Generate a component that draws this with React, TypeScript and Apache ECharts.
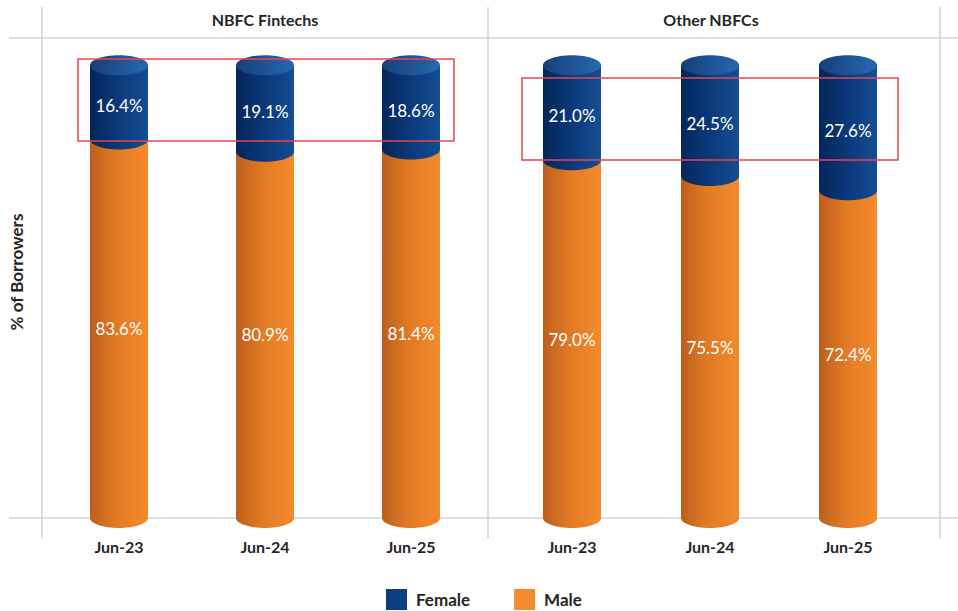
import React, { useEffect, useRef } from "react";
import * as echarts from "echarts";

const categories = ["Jun-23", "Jun-24", "Jun-25"];
const panelTitles = ["NBFC Fintechs", "Other NBFCs"];
const fintechFemale = [16.4, 19.1, 18.6];
const fintechMale = [83.6, 80.9, 81.4];
const otherFemale = [21.0, 24.5, 27.6];
const otherMale = [79.0, 75.5, 72.4];
const yAxisTitle = "% of Borrowers";
const legendNames = ["Female", "Male"];

const FONT = "Lato, 'Open Sans', sans-serif";
const TXT = "#262626";

function blueBody() {
  return new echarts.graphic.LinearGradient(0, 0, 1, 0, [
    { offset: 0, color: "#04265a" },
    { offset: 0.5, color: "#0a397a" },
    { offset: 1, color: "#154e93" },
  ]);
}
function blueCap() {
  return new echarts.graphic.LinearGradient(0, 0, 1, 0, [
    { offset: 0, color: "#173f78" },
    { offset: 1, color: "#2668b2" },
  ]);
}
function orangeBody() {
  return new echarts.graphic.LinearGradient(0, 0, 1, 0, [
    { offset: 0, color: "#bd5f1b" },
    { offset: 0.45, color: "#e27a25" },
    { offset: 1, color: "#f38a2c" },
  ]);
}

function makeRender(kind: "male" | "female") {
  return (params: any, api: any) => {
    const x = api.value(0);
    const start = api.value(1);
    const end = api.value(2);
    const v = api.value(3);
    const b = api.coord([x, start]);
    const t = api.coord([x, end]);
    const w = 58;
    const ry = 10;
    const cx = b[0];
    const children: any[] = [
      {
        type: "rect",
        shape: { x: cx - w / 2, y: t[1], width: w, height: b[1] - t[1] },
        style: { fill: kind === "female" ? blueBody() : orangeBody() },
      },
      {
        type: "ellipse",
        shape: { cx, cy: b[1], rx: w / 2, ry },
        style: { fill: kind === "female" ? blueBody() : orangeBody() },
      },
    ];
    if (kind === "female") {
      children.push({
        type: "ellipse",
        shape: { cx, cy: t[1], rx: w / 2, ry },
        style: { fill: blueCap() },
      });
    }
    children.push({
      type: "text",
      x: cx,
      y: (b[1] + t[1]) / 2 + (kind === "female" ? 3 : 0),
      style: {
        text: Number(v).toFixed(1) + "%",
        fill: "#ffffff",
        fontSize: 17,
        fontFamily: FONT,
        align: "center",
        verticalAlign: "middle",
      },
    });
    return { type: "group", children };
  };
}

function buildData(lower: number[], upper: number[], isUpper: boolean) {
  return categories.map((_, i) =>
    isUpper
      ? [i, lower[i], lower[i] + upper[i], upper[i]]
      : [i, 0, lower[i], lower[i]]
  );
}

export default function App() {
  const ref = useRef<HTMLDivElement>(null);
  useEffect(() => {
    if (!ref.current) return;
    const chart = echarts.init(ref.current, null, { renderer: "svg" });
    const gridTop = 38;
    const gridHeight = 480;
    const lineColor = "#d4d4d4";
    const xAxisCommon = {
      type: "category",
      data: categories,
      axisLine: { show: false },
      axisTick: { show: false },
      axisLabel: {
        margin: 20,
        fontSize: 16,
        fontWeight: "bold",
        color: TXT,
        fontFamily: FONT,
      },
    };
    const yCommon = {
      type: "value",
      min: 0,
      max: 106,
      axisLine: { show: false },
      axisTick: { show: false },
      axisLabel: { show: false },
      splitLine: { show: false },
    };
    const option: any = {
      animation: false,
      textStyle: { fontFamily: FONT },
      grid: [
        { left: 46, width: 438, top: gridTop, height: gridHeight },
        { left: 503, width: 414, top: gridTop, height: gridHeight },
      ],
      xAxis: [
        { ...xAxisCommon, gridIndex: 0 },
        { ...xAxisCommon, gridIndex: 1 },
      ],
      yAxis: [
        { ...yCommon, gridIndex: 0 },
        { ...yCommon, gridIndex: 1 },
      ],
      legend: {
        data: legendNames,
        left: 386,
        top: 589,
        padding: 0,
        icon: "rect",
        itemWidth: 21,
        itemHeight: 21,
        itemGap: 44,
        textStyle: {
          fontSize: 17,
          fontWeight: "bold",
          color: TXT,
          fontFamily: FONT,
          padding: [0, 0, 0, 4],
        },
      },
      graphic: [
        ...[42, 488, 940].map((x) => ({
          type: "line",
          z: 0,
          shape: { x1: x, y1: 7, x2: x, y2: 538 },
          style: { stroke: lineColor, lineWidth: 1.5 },
        })),
        ...[38, 518].map((y) => ({
          type: "line",
          z: 0,
          shape: { x1: 9, y1: y, x2: 958, y2: y },
          style: { stroke: lineColor, lineWidth: 1.5 },
        })),
        ...panelTitles.map((t, i) => ({
          type: "text",
          x: i === 0 ? 265 : 711,
          y: 19,
          style: {
            text: t,
            fontSize: 16,
            fontWeight: "bold",
            fill: TXT,
            fontFamily: FONT,
            align: "center",
            verticalAlign: "middle",
          },
        })),
        {
          type: "text",
          x: 16,
          y: 272,
          rotation: Math.PI / 2,
          style: {
            text: yAxisTitle,
            fontSize: 17,
            fontWeight: "bold",
            fill: TXT,
            fontFamily: FONT,
            align: "center",
            verticalAlign: "middle",
          },
        },
        {
          type: "rect",
          z: 100,
          shape: { x: 78, y: 59, width: 376, height: 82 },
          style: { fill: "none", stroke: "#e9444e", lineWidth: 1.5 },
        },
        {
          type: "rect",
          z: 100,
          shape: { x: 522, y: 78, width: 376, height: 82 },
          style: { fill: "none", stroke: "#e9444e", lineWidth: 1.5 },
        },
      ],
      series: [
        {
          type: "custom",
          name: "Male",
          xAxisIndex: 0,
          yAxisIndex: 0,
          z: 2,
          itemStyle: { color: "#f28a2e" },
          renderItem: makeRender("male"),
          encode: { x: 0, y: [1, 2] },
          data: buildData(fintechMale, fintechFemale, false),
        },
        {
          type: "custom",
          name: "Female",
          xAxisIndex: 0,
          yAxisIndex: 0,
          z: 3,
          itemStyle: { color: "#0b3f82" },
          renderItem: makeRender("female"),
          encode: { x: 0, y: [1, 2] },
          data: buildData(fintechMale, fintechFemale, true),
        },
        {
          type: "custom",
          name: "Male",
          xAxisIndex: 1,
          yAxisIndex: 1,
          z: 2,
          itemStyle: { color: "#f28a2e" },
          renderItem: makeRender("male"),
          encode: { x: 0, y: [1, 2] },
          data: buildData(otherMale, otherFemale, false),
        },
        {
          type: "custom",
          name: "Female",
          xAxisIndex: 1,
          yAxisIndex: 1,
          z: 3,
          itemStyle: { color: "#0b3f82" },
          renderItem: makeRender("female"),
          encode: { x: 0, y: [1, 2] },
          data: buildData(otherMale, otherFemale, true),
        },
      ],
    };
    chart.setOption(option);
    return () => chart.dispose();
  }, []);
  return (
    <div
      ref={ref}
      style={{ position: "absolute", left: 0, top: 0, width: 958, height: 611 }}
    />
  );
}
